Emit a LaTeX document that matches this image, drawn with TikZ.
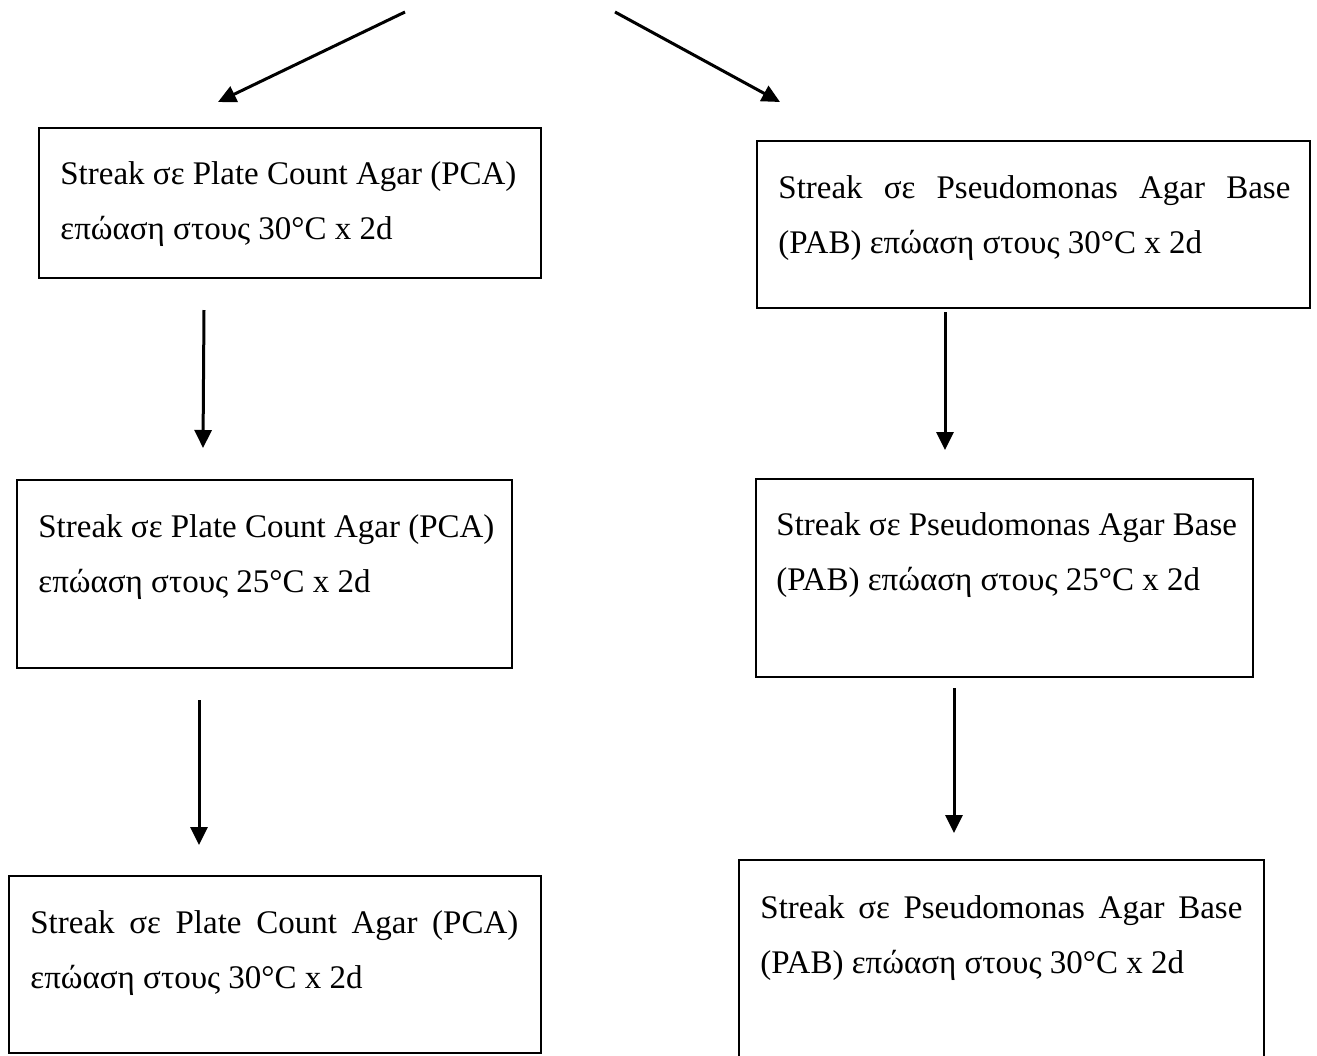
\documentclass[tikz,border=0pt]{standalone}
\usepackage{fontspec}
\setmainfont{Liberation Serif}
\usetikzlibrary{arrows.meta}
% one line of a box text, spread to a given width
\newcommand{\jline}[2]{\hbox to #1{#2}}
\newcommand{\nline}[1]{\hbox{#1}}
\tikzset{
  box/.style={draw=black, line width=1pt, rectangle, anchor=north west, inner sep=0pt},
  txt/.style={anchor=base west, inner sep=0pt, font=\fontsize{16.5pt}{27.5pt}\selectfont},
  arr/.style={line width=1.5pt, -{Triangle[width=8.5pt,length=9pt]}}
}
\begin{document}
\begin{tikzpicture}[x=0.5pt,y=-0.5pt]
\useasboundingbox (0,0) rectangle (1317,1055);

% boxes
\node[box, minimum width=251pt, minimum height=75pt] (l1) at (38,127) {};
\node[box, minimum width=276.5pt, minimum height=83.5pt] (r1) at (756,140) {};
\node[box, minimum width=247.5pt, minimum height=94pt] (l2) at (16,479) {};
\node[box, minimum width=248.5pt, minimum height=99pt] (r2) at (755,478) {};
\node[box, minimum width=266pt, minimum height=88.5pt] (l3) at (8,875) {};
\node[box, minimum width=262.5pt, minimum height=130pt] (r3) at (738,859) {};

% texts
\node[txt] (t1) at (60,184) {\vtop{\baselineskip=27.5pt
  \nline{Streak σε Plate Count Agar (PCA)}
  \nline{επώαση στους 30°C x 2d}}};
\node[txt] (t2) at (778,198) {\vtop{\baselineskip=27.5pt
  \jline{256pt}{Streak σε Pseudomonas Agar Base}
  \nline{(PAB) επώαση στους 30°C x 2d}}};
\node[txt] (t3) at (38,537) {\vtop{\baselineskip=27.5pt
  \nline{Streak σε Plate Count Agar (PCA)}
  \nline{επώαση στους 25°C x 2d}}};
\node[txt] (t4) at (776,535) {\vtop{\baselineskip=27.5pt
  \nline{Streak σε Pseudomonas Agar Base}
  \nline{(PAB) επώαση στους 25°C x 2d}}};
\node[txt] (t5) at (30,933) {\vtop{\baselineskip=27.5pt
  \jline{244pt}{Streak σε Plate Count Agar (PCA)}
  \nline{επώαση στους 30°C x 2d}}};
\node[txt] (t6) at (760,918) {\vtop{\baselineskip=27.5pt
  \jline{241pt}{Streak σε Pseudomonas Agar Base}
  \nline{(PAB) επώαση στους 30°C x 2d}}};

% arrow ends
\coordinate (sL) at (405,12);
\coordinate (eL) at (218,102);
\coordinate (sR) at (615,12);
\coordinate (eR) at (780,102);
\coordinate (a1) at (204,310);
\coordinate (a1e) at (203,448);
\coordinate (b1) at (945,312);
\coordinate (b1e) at (945,450);
\coordinate (a2) at (199,700);
\coordinate (a2e) at (199,845);
\coordinate (b2) at (954,688);
\coordinate (b2e) at (954,833);

\draw[arr] (sL) -- (eL);
\draw[arr] (sR) -- (eR);
\draw[arr] (a1) -- (a1e);
\draw[arr] (b1) -- (b1e);
\draw[arr] (a2) -- (a2e);
\draw[arr] (b2) -- (b2e);
\end{tikzpicture}
\end{document}
